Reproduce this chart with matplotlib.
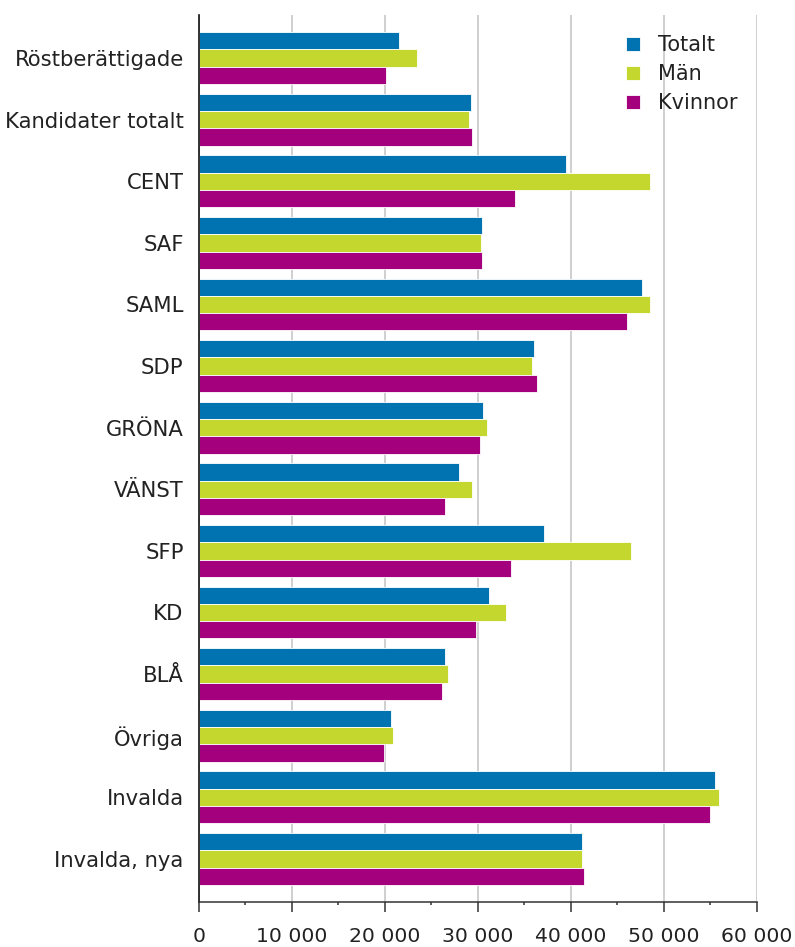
import matplotlib
matplotlib.use("Agg")
import matplotlib.pyplot as plt
import numpy as np

categories = ['Röstberättigade', 'Kandidater totalt', 'CENT', 'SAF', 'SAML', 'SDP',
              'GRÖNA', 'VÄNST', 'SFP', 'KD', 'BLÅ', 'Övriga', 'Invalda', 'Invalda, nya']

totalt = [21500, 29200, 39500, 30400, 47600, 36000, 30500, 28000, 37100, 31200, 26400, 20600, 55500, 41200]
man = [23400, 29000, 48500, 30300, 48500, 35800, 31000, 29400, 46500, 33000, 26800, 20900, 55900, 41200]
kvinnor = [20100, 29400, 34000, 30400, 46000, 36300, 30200, 26400, 33600, 29800, 26100, 19900, 54900, 41400]

series_names = ['Totalt', 'Män', 'Kvinnor']
colors = ['#0073B0', '#C3D72E', '#A4007E']

plt.rcParams['font.family'] = ['DejaVu Sans']

fig = plt.figure(figsize=(7.95, 9.47), dpi=100)
ax = fig.add_axes([0.2503, 0.0475, 0.7019, 0.9367])

barh = 0.28
y = np.arange(len(categories))
for i, (vals, name, col) in enumerate(zip([totalt, man, kvinnor], series_names, colors)):
    ax.barh(y + (i - 1) * barh, vals, height=barh, color=col, edgecolor='white',
            linewidth=0.6, label=name, zorder=3)

ax.set_ylim(len(categories) - 0.3, -0.7)
ax.set_xlim(0, 60000)
ax.set_yticks(y)
ax.set_yticklabels(categories, fontsize=15.2, color='#222222')
ax.tick_params(axis='y', length=0, pad=11)

ax.set_xticks(np.arange(0, 60001, 10000))
ax.set_xticklabels(['{:,}'.format(v).replace(',', ' ') for v in range(0, 60001, 10000)],
                   fontsize=14.7, color='#222222')
ax.set_xticks(np.arange(5000, 60000, 10000), minor=True)
ax.tick_params(axis='x', which='major', length=7, width=1.1, color='#333333', pad=11)
ax.tick_params(axis='x', which='minor', length=2.5, width=1.1, color='#333333')

ax.grid(axis='x', color='#cccccc', linewidth=1.3, zorder=0)
for s in ['top', 'right']:
    ax.spines[s].set_visible(False)
ax.spines['left'].set_color('#111111')
ax.spines['left'].set_linewidth(1.2)
ax.spines['left'].set_zorder(5)
ax.spines['bottom'].set_color('#333333')
ax.spines['bottom'].set_linewidth(1.1)
ax.spines['bottom'].set_zorder(5)

leg = ax.legend(loc='upper left', bbox_to_anchor=(0.750, 0.9865), frameon=False, fontsize=15,
                handlelength=0.68, handleheight=0.68, handletextpad=0.85, labelspacing=0.43,
                borderaxespad=0)
for t in leg.get_texts():
    t.set_color('#222222')

fig.savefig('out.png', dpi=100)
